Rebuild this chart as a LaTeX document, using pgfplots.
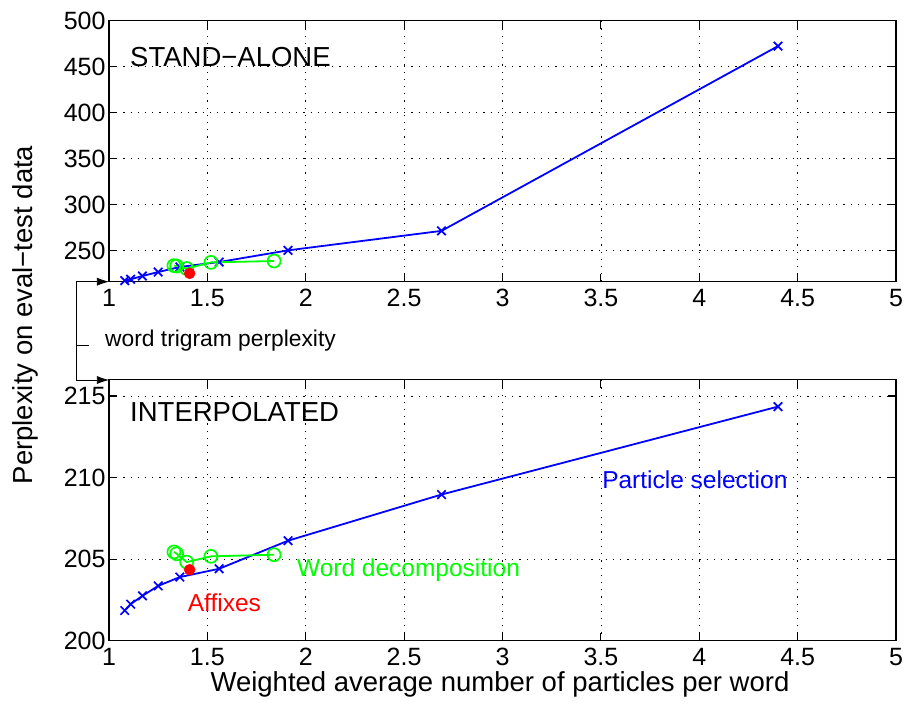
\documentclass[border=0pt]{standalone}
\usepackage{fontspec}
\setmainfont{Liberation Sans}
\usepackage{pgfplots}
\pgfplotsset{compat=1.18}
\usetikzlibrary{arrows.meta}

\definecolor{mblue}{rgb}{0,0,1}
\definecolor{mgreen}{rgb}{0,1,0}
\definecolor{mred}{rgb}{1,0,0}

\newcommand{\tickfont}{\fontsize{25}{30}\selectfont}
\newcommand{\labfont}{\fontsize{27.5}{33}\selectfont}
\newcommand{\txtfont}{\fontsize{24.5}{29}\selectfont}

\pgfplotsset{
  panel/.style={
    scale only axis,
    width=787pt, height=261pt,
    xmin=1, xmax=5,
    xtick={1,1.5,...,5},
    grid=major,
    major grid style={black, line width=0.7pt, dash pattern=on 1.2pt off 6pt},
    axis line style={black, line width=1.1pt},
    tick style={black, line width=1.1pt},
    major tick length=8pt,
    tick align=inside,
    ticklabel style={font=\tickfont},
    xticklabel style={yshift=-4pt},
    /pgf/number format/assume math mode=true,
    clip=false,
  },
  particles/.style={mblue, line width=1.8pt, mark=x, mark size=6pt,
    mark options={line width=1.7pt}},
  decomp/.style={mgreen, line width=1.8pt, mark=o, mark size=6.5pt,
    mark options={line width=1.7pt}},
  affix/.style={mred, only marks, mark=*, mark size=5.5pt},
}

\begin{document}
\begin{tikzpicture}[x=1pt,y=1pt]
\useasboundingbox (-109pt,-424.3pt) rectangle (799pt,281.7pt);

% stand-alone perplexities
\begin{axis}[panel, at={(0pt,0pt)}, anchor=south west,
  ymin=216, ymax=500, ytick={250,300,...,500}]
  \addplot[particles] coordinates {
    (1.08,217.1) (1.11,218.6) (1.17,222.2) (1.25,226.5) (1.36,232.0)
    (1.56,237.4) (1.91,250.1) (2.69,271.3) (4.40,472.3)};
  \addplot[decomp] coordinates {
    (1.330,233.5) (1.344,233.0) (1.395,230.3) (1.518,237.0) (1.839,238.5)};
  \addplot[affix] coordinates {(1.41,225.1)};
  \node[anchor=west, font=\labfont, inner sep=0pt] at (rel axis cs:0.0267,0.861) {STAND−ALONE};
\end{axis}

% interpolated with the word trigram
\begin{axis}[panel, at={(0pt,-359pt)}, anchor=south west,
  ymin=200, ymax=216, ytick={200,205,210,215}]
  \addplot[particles] coordinates {
    (1.08,201.85) (1.11,202.24) (1.17,202.75) (1.25,203.36) (1.36,203.90)
    (1.56,204.41) (1.91,206.13) (2.69,208.96) (4.40,214.35)};
  \addplot[decomp] coordinates {
    (1.330,205.44) (1.344,205.33) (1.395,204.82) (1.518,205.17) (1.839,205.27)};
  \addplot[affix] coordinates {(1.41,204.35)};
  \node[anchor=west, font=\labfont, inner sep=0pt] at (rel axis cs:0.0267,0.877) {INTERPOLATED};
  \node[anchor=west, font=\txtfont, inner sep=0pt, text=mblue] at (axis cs:3.506,209.88) {Particle selection};
  \node[anchor=west, font=\txtfont, inner sep=0pt, text=mgreen] at (axis cs:1.955,204.35) {Word decomposition};
  \node[anchor=west, font=\txtfont, inner sep=0pt, text=mred] at (axis cs:1.40,202.32) {Affixes};
\end{axis}

% bracket marking the word trigram perplexity level
\draw[line width=0.7pt, -{Latex[length=12pt,width=8pt]}] (-33pt,-98.3pt) -- (-33pt,0pt) -- (0pt,0pt);
\draw[line width=0.7pt, -{Latex[length=12pt,width=8pt]}] (-33pt,0pt) -- (-33pt,-98.3pt) -- (0pt,-98.3pt);
\draw[line width=0.7pt] (-33pt,-63.3pt) -- (-20pt,-63.3pt);
\node[anchor=west, inner sep=0pt, font=\fontsize{22.8}{27}\selectfont] at (-4pt,-59.3pt) {word trigram perplexity};

% axis titles
\node[rotate=90, font=\labfont, inner sep=0pt] at (-84pt,-33.3pt) {Perplexity on eval−test data};
\node[font=\labfont, inner sep=0pt] at (391pt,-402.3pt) {Weighted average number of particles per word};
\end{tikzpicture}
\end{document}
